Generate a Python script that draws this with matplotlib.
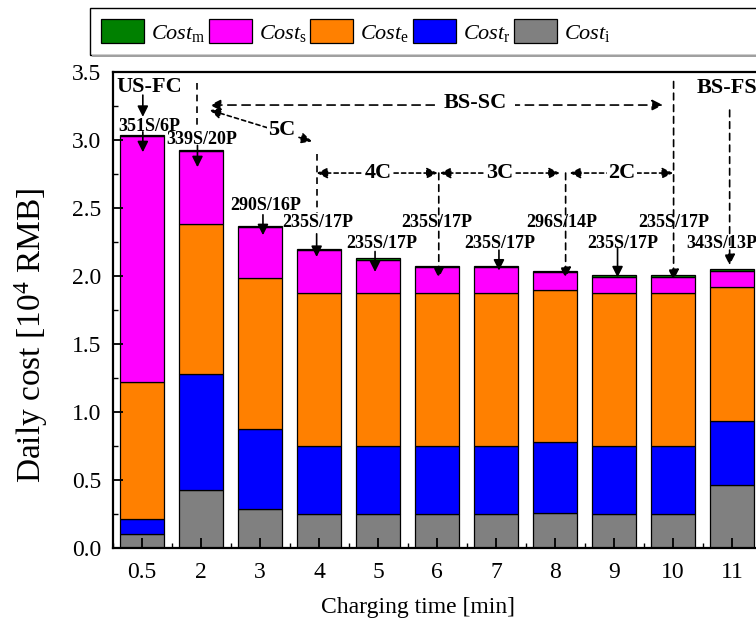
import numpy as np
import matplotlib
matplotlib.use("Agg")
import matplotlib.pyplot as plt
from matplotlib.patches import Rectangle
from matplotlib.ticker import FixedLocator, MultipleLocator, FormatStrFormatter

plt.rcParams['font.family'] = ['Liberation Serif', 'DejaVu Serif']
plt.rcParams['mathtext.fontset'] = 'custom'
plt.rcParams['mathtext.rm'] = 'Liberation Serif'
plt.rcParams['mathtext.it'] = 'Liberation Serif:italic'
plt.rcParams['mathtext.bf'] = 'Liberation Serif:bold'

# Data (10^4 RMB per day)
times = ['0.5', '2', '3', '4', '5', '6', '7', '8', '9', '10', '11']
cost_i = [0.105, 0.426, 0.289, 0.248, 0.248, 0.248, 0.248, 0.260, 0.248, 0.248, 0.466]
cost_r = [0.110, 0.854, 0.586, 0.504, 0.504, 0.504, 0.504, 0.519, 0.504, 0.504, 0.468]
cost_e = [1.008, 1.102, 1.110, 1.121, 1.121, 1.121, 1.121, 1.118, 1.121, 1.121, 0.985]
cost_s = [1.807, 0.538, 0.375, 0.317, 0.247, 0.192, 0.192, 0.133, 0.122, 0.122, 0.121]
cost_m = [0.010] * 11
configs = ['351S/6P', '339S/20P', '290S/16P', '235S/17P', '235S/17P', '235S/17P',
           '235S/17P', '296S/14P', '235S/17P', '235S/17P', '343S/13P']

series = [
    (cost_i, '#808080', r'$\mathit{Cost}_{\mathrm{i}}$'),
    (cost_r, '#0000ff', r'$\mathit{Cost}_{\mathrm{r}}$'),
    (cost_e, '#ff8000', r'$\mathit{Cost}_{\mathrm{e}}$'),
    (cost_s, '#ff00ff', r'$\mathit{Cost}_{\mathrm{s}}$'),
    (cost_m, '#008000', r'$\mathit{Cost}_{\mathrm{m}}$'),
]

W, H = 756, 620
fig = plt.figure(figsize=(W / 100, H / 100), dpi=100)
ax = fig.add_axes([112.5 / W, 72 / H, 649 / W, 476 / H])

x = np.arange(len(times))
bottom = np.zeros(len(times))
handles = {}
for vals, col, lab in series:
    b = ax.bar(x, vals, 0.73, bottom=bottom, color=col, edgecolor='k', linewidth=0.9, label=lab)
    handles[lab] = b
    bottom += np.array(vals)

ax.set_xlim(-0.5, 10.5)
ax.set_ylim(0, 3.5)
ax.set_xticks(x)
ax.set_xticklabels(times)
ax.xaxis.set_minor_locator(FixedLocator(np.arange(-0.5, 11, 1)))
ax.yaxis.set_major_locator(MultipleLocator(0.5))
ax.yaxis.set_minor_locator(MultipleLocator(0.25))
ax.yaxis.set_major_formatter(FormatStrFormatter('%.1f'))
ax.tick_params(axis='both', which='major', direction='in', length=7, width=1.3, labelsize=17)
ax.tick_params(axis='x', which='major', pad=10)
ax.tick_params(axis='y', which='major', pad=8)
ax.tick_params(axis='both', which='minor', direction='in', length=3.5, width=1.0)
for s in ax.spines.values():
    s.set_linewidth(1.6)

ax.set_xlabel('Charging time [min]', fontsize=17)
ax.xaxis.set_label_coords(0.4707, -0.103)
ax.set_ylabel(r'Daily cost [10$^4$ RMB]', fontsize=24)
ax.yaxis.set_label_coords(-0.096, 0.447)

# legend (frame drawn separately, it runs past the right edge)
order = [r'$\mathit{Cost}_{\mathrm{m}}$', r'$\mathit{Cost}_{\mathrm{s}}$', r'$\mathit{Cost}_{\mathrm{e}}$',
         r'$\mathit{Cost}_{\mathrm{r}}$', r'$\mathit{Cost}_{\mathrm{i}}$']
leg = fig.legend([handles[k] for k in order], order, loc='center left',
                 bbox_to_anchor=(94 / W, 1 - 31.5 / H), ncol=5, fontsize=16, frameon=False,
                 handlelength=1.95, handleheight=1.25,
                 handletextpad=0.3, columnspacing=0.15, borderpad=0.3, borderaxespad=0)
fig.patches.append(Rectangle((90 / W, 1 - 55 / H), 700 / W, 47 / H, transform=fig.transFigure,
                             fill=False, edgecolor='k', lw=1.0))
fig.patches.append(Rectangle((92 / W, 1 - 57 / H), 700 / W, 1.5 / H, transform=fig.transFigure,
                             color='#a0a0a0', lw=0))

# annotations
bold = dict(fontweight='bold', ha='center', va='center')
solid = dict(arrowstyle='-|>', color='k', lw=1.2, mutation_scale=16, shrinkA=0, shrinkB=0)
dashed = dict(arrowstyle='-|>', color='k', lw=1.2, ls=(0, (4, 3)), mutation_scale=16,
              shrinkA=0, shrinkB=0)
dbl_long = dict(arrowstyle='<|-|>', color='k', lw=1.2, ls=(0, (5, 3.5)), mutation_scale=16,
                shrinkA=0, shrinkB=0)
dbl_short = dict(arrowstyle='<|-|>', color='k', lw=1.2, ls=(0, (2.5, 2)), mutation_scale=16,
                 shrinkA=0, shrinkB=0)
wbox = dict(facecolor='white', edgecolor='none', pad=1)

# US-FC
ax.text(0.13, 3.39, 'US-FC', fontsize=16, **bold)
ax.annotate('', xy=(0.014, 3.17), xytext=(0.014, 3.33), arrowprops=solid)
ax.text(0.12, 3.10, configs[0], fontsize=13, **bold)
ax.annotate('', xy=(0.014, 2.91), xytext=(0.014, 3.06), arrowprops=solid)

# 2 min
ax.plot([0.94, 0.94], [3.42, 3.09], color='k', lw=1.2, ls=(0, (4, 3)))
ax.text(1.02, 3.0, configs[1], fontsize=13, **bold)
ax.annotate('', xy=(0.94, 2.80), xytext=(0.94, 2.96), arrowprops=solid)

# BS-SC
ax.annotate('', xy=(1.15, 3.257), xytext=(8.83, 3.257), arrowprops=dbl_long)
ax.text(5.64, 3.27, 'BS-SC', fontsize=16, bbox=dict(facecolor='white', edgecolor='none', pad=6), **bold)

# 5C
ax.annotate('', xy=(1.15, 3.22), xytext=(2.88, 2.99), arrowprops=dbl_short)
ax.text(2.37, 3.07, '5C', fontsize=16, bbox=wbox, **bold)

# 3 min
ax.text(2.1, 2.52, configs[2], fontsize=13, **bold)
ax.annotate('', xy=(2.05, 2.30), xytext=(2.05, 2.45), arrowprops=solid)

# 4 min
ax.plot([2.96, 2.96], [2.90, 2.46], color='k', lw=1.2, ls=(0, (4, 3)))
ax.text(2.98, 2.39, configs[3], fontsize=13, **bold)
ax.annotate('', xy=(2.96, 2.14), xytext=(2.96, 2.31), arrowprops=solid)

# 4C / 3C / 2C
ax.annotate('', xy=(2.96, 2.757), xytext=(5.01, 2.757), arrowprops=dbl_short)
ax.text(4.0, 2.757, '4C', fontsize=16, bbox=wbox, **bold)
ax.annotate('', xy=(5.05, 2.757), xytext=(7.08, 2.757), arrowprops=dbl_short)
ax.text(6.06, 2.757, '3C', fontsize=16, bbox=wbox, **bold)
ax.annotate('', xy=(7.25, 2.757), xytext=(9.0, 2.757), arrowprops=dbl_short)
ax.text(8.13, 2.757, '2C', fontsize=16, bbox=wbox, **bold)

# 5 min
ax.text(4.06, 2.24, configs[4], fontsize=13, **bold)
ax.annotate('', xy=(3.95, 2.03), xytext=(3.95, 2.18), arrowprops=solid)

# 6 min
ax.annotate('', xy=(5.03, 1.985), xytext=(5.03, 2.757), arrowprops=dashed)
ax.text(5.0, 2.39, configs[5], fontsize=13, **bold)

# 7 min
ax.text(6.07, 2.24, configs[6], fontsize=13, **bold)
ax.annotate('', xy=(6.05, 2.04), xytext=(6.05, 2.19), arrowprops=solid)

# 8 min
ax.annotate('', xy=(7.18, 1.985), xytext=(7.18, 2.757), arrowprops=dashed)
ax.text(7.12, 2.39, configs[7], fontsize=13, **bold)

# 9 min
ax.text(8.14, 2.24, configs[8], fontsize=13, **bold)
ax.annotate('', xy=(8.06, 1.99), xytext=(8.06, 2.21), arrowprops=solid)

# 10 min
ax.annotate('', xy=(9.01, 1.97), xytext=(9.01, 3.43), arrowprops=dashed)
ax.text(9.01, 2.39, configs[9], fontsize=13, **bold)

# 11 min, BS-FS
ax.text(9.40, 3.38, 'BS-FS', fontsize=16, fontweight='bold', ha='left', va='center')
ax.annotate('', xy=(9.96, 2.08), xytext=(9.96, 3.22), arrowprops=dashed)
ax.text(9.23, 2.24, configs[10], fontsize=13, fontweight='bold', ha='left', va='center')

fig.savefig('out.png', dpi=100)
